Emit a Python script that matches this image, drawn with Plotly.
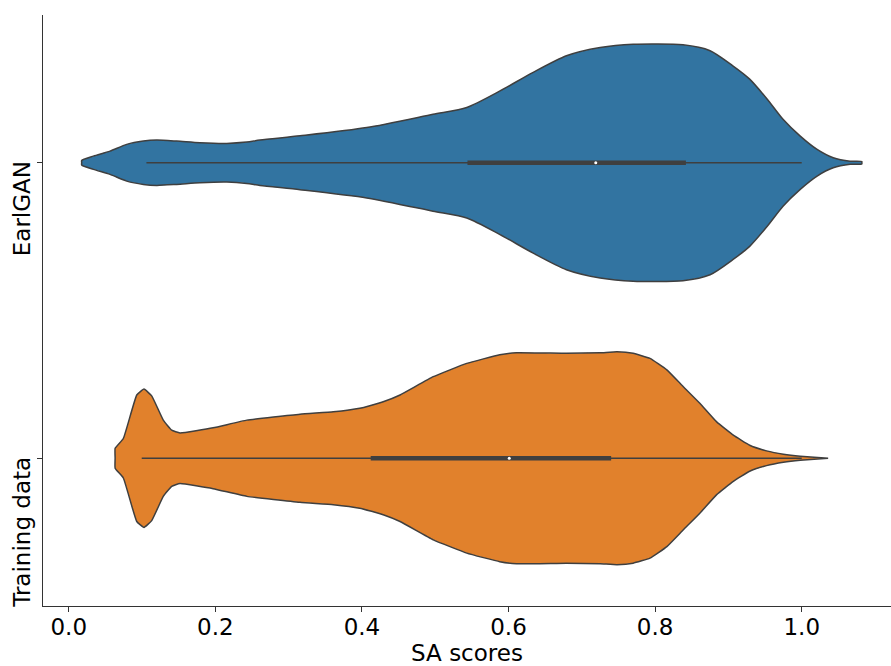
import plotly.graph_objects as go

# ---- data ----
categories = ["EarlGAN", "Training data"]
colors = ["#3274a1", "#e1812c"]

# violin outline: SA score position and half-width (category units)
earlgan_x = [0.0177, 0.0177, 0.0336, 0.0563, 0.0791, 0.1018, 0.120, 0.1473, 0.179, 0.2156,
             0.2428, 0.261, 0.3156, 0.4066, 0.497, 0.543, 0.5884, 0.633, 0.679, 0.725,
             0.770, 0.838, 0.875, 0.906, 0.929, 0.953, 0.9745, 0.998, 1.021, 1.043,
             1.066, 1.082, 1.082]
earlgan_hw = [0.0, 0.0078, 0.0224, 0.0394, 0.0621, 0.0733, 0.0767, 0.0733, 0.0679, 0.0655,
              0.0699, 0.0767, 0.091, 0.119, 0.164, 0.187, 0.243, 0.305, 0.362, 0.390,
              0.401, 0.399, 0.379, 0.328, 0.283, 0.215, 0.147, 0.090, 0.045, 0.017,
              0.0054, 0.004, 0.0]

train_x = [0.0633, 0.0633, 0.0745, 0.0928, 0.1027, 0.1132, 0.129, 0.1405, 0.1518, 0.197,
           0.243, 0.3156, 0.361, 0.397, 0.429, 0.452, 0.4974, 0.543, 0.588, 0.611,
           0.679, 0.725, 0.748, 0.770, 0.793, 0.816, 0.8385, 0.861, 0.884, 0.9067,
           0.929, 0.952, 0.975, 0.998, 1.036]
train_hw = [0.0, 0.034, 0.0668, 0.214, 0.234, 0.211, 0.129, 0.095, 0.0858, 0.103,
            0.129, 0.149, 0.157, 0.169, 0.191, 0.214, 0.276, 0.321, 0.350, 0.357,
            0.355, 0.357, 0.360, 0.355, 0.338, 0.299, 0.242, 0.186, 0.123, 0.078,
            0.044, 0.025, 0.0136, 0.0068, 0.0]

# box statistics: whisker low, Q1, median, Q3, whisker high
whisk_lo = [0.106, 0.0996]
q1 = [0.544, 0.412]
median = [0.719, 0.601]
q3 = [0.842, 0.740]
whisk_hi = [1.0, 1.0]

x_ticks = [0.0, 0.2, 0.4, 0.6, 0.8, 1.0]
x_title = "SA scores"

edge = "#3f3f3f"
FONT = "DejaVu Sans"
FS = 23

fig = go.Figure()
profiles = [(earlgan_x, earlgan_hw, 0.7), (train_x, train_hw, 0.35)]
for i, (xs, hws, sm) in enumerate(profiles):
    px = list(xs) + list(reversed(xs))
    py = [i - h for h in hws] + [i + h for h in reversed(hws)]
    fig.add_trace(go.Scatter(x=px, y=py, mode="lines", fill="toself",
                             fillcolor=colors[i],
                             line=dict(color=edge, width=1.5, shape="spline", smoothing=sm),
                             hoverinfo="skip", showlegend=False))
    # whisker
    fig.add_trace(go.Scatter(x=[whisk_lo[i], whisk_hi[i]], y=[i, i], mode="lines",
                             line=dict(color=edge, width=1.5), showlegend=False, hoverinfo="skip"))
    # IQR box
    fig.add_trace(go.Scatter(x=[q1[i], q3[i]], y=[i, i], mode="lines",
                             line=dict(color=edge, width=4.5), showlegend=False, hoverinfo="skip"))
    # median
    fig.add_trace(go.Scatter(x=[median[i]], y=[i], mode="markers",
                             marker=dict(color="white", size=3, line=dict(width=0)),
                             showlegend=False, hoverinfo="skip"))

for i, c in enumerate(categories):
    fig.add_annotation(x=0, xref="paper", y=i, yref="y", text=c, textangle=-90,
                       showarrow=False, xanchor="right", yanchor="top",
                       xshift=-6, yshift=4,
                       font=dict(family=FONT, size=FS, color="black"))

fig.update_layout(
    width=891, height=666,
    margin=dict(l=43, r=0, t=15, b=60),
    plot_bgcolor="white", paper_bgcolor="white",
    font=dict(family=FONT, size=FS, color="black"),
    xaxis=dict(range=[-0.0351, 1.1218], tickvals=x_ticks,
               ticktext=[f"{v:.1f}" for v in x_ticks],
               showgrid=False, zeroline=False, showline=True, linecolor="#333333",
               linewidth=1.2, ticks="outside", ticklen=5, tickwidth=1.1, tickcolor="#333333",
               ticklabelstandoff=-5,
               title=dict(text=x_title, standoff=2, font=dict(family=FONT, size=FS)),
               tickfont=dict(family=FONT, size=FS)),
    yaxis=dict(range=[1.5, -0.5], tickvals=[0, 1], ticktext=["", ""],
               showgrid=False, zeroline=False, showline=True, linecolor="#333333",
               linewidth=1.2, ticks="outside", ticklen=5, tickwidth=1.1, tickcolor="#333333"),
)

fig.write_html("out.html")
